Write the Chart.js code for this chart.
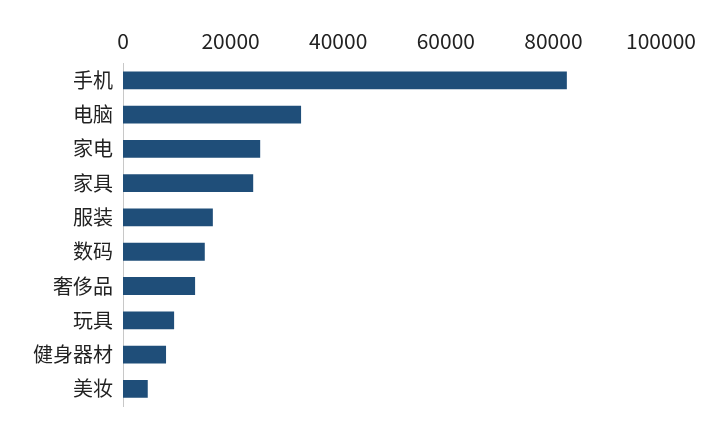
<!DOCTYPE html>
<html><head><meta charset="utf-8">
<script src="https://cdn.jsdelivr.net/npm/chart.js@4"></script>
<style>html,body{margin:0;padding:0;background:#fff}#w{width:714px;height:428px}</style>
</head><body><div id="w"><canvas id="c"></canvas></div>
<script>
const categories = ["手机","电脑","家电","家具","服装","数码","奢侈品","玩具","健身器材","美妆"];
const values = [82500,33100,25500,24200,16700,15200,13400,9500,8000,4600];
const tickValues = [0,20000,40000,60000,80000,100000];
new Chart(document.getElementById('c'), {
  type: 'bar',
  data: { labels: categories, datasets: [{ data: values, backgroundColor: '#1f4e79', barPercentage: 0.52, categoryPercentage: 1 }] },
  options: {
    indexAxis: 'y', responsive: true, maintainAspectRatio: false, animation: false,
    layout: { padding: { left: 4, right: 53, top: 18, bottom: 16 } },
    plugins: { legend: { display: false }, tooltip: { enabled: false } },
    scales: {
      x: { position: 'top', min: 0, max: 100000,
           afterBuildTicks: a => { a.ticks = tickValues.map(v => ({ value: v })); },
           grid: { display: false, drawTicks: false }, border: { display: false },
           ticks: { color: '#222', font: { family: 'Noto Sans CJK SC', size: 21 }, padding: 10, callback: v => String(v) } },
      y: { afterFit: a => { a.width = 119; },
           grid: { display: false, drawTicks: false }, border: { color: '#c8c8c8', width: 1 },
           ticks: { color: '#222', font: { family: 'Noto Sans CJK SC', size: 20 }, padding: 10 } }
    }
  }
});
</script></body></html>
